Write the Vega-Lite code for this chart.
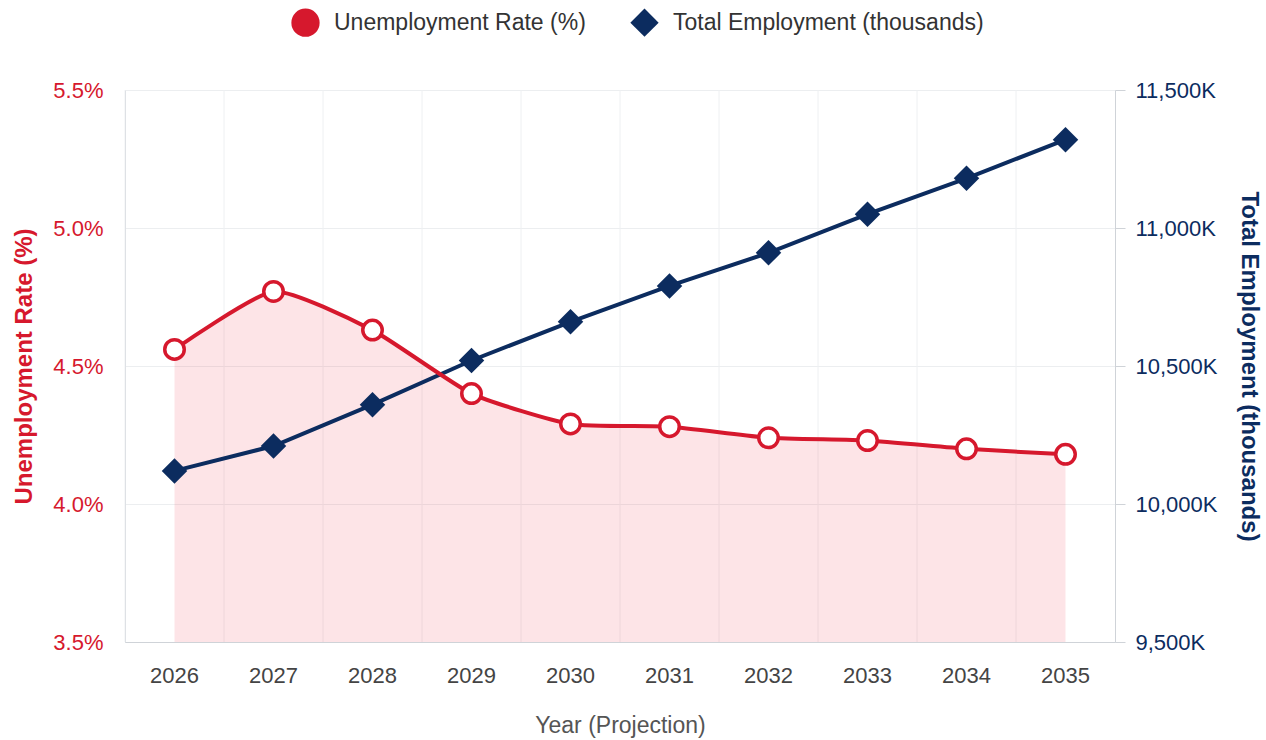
{
  "$schema": "https://vega.github.io/schema/vega-lite/v6.json",
  "width": 990,
  "height": 552,
  "autosize": {"type": "none"},
  "padding": {"left": 125, "top": 90, "right": 151, "bottom": 98},
  "background": "white",
  "config": {
    "font": "Liberation Sans",
    "view": {"stroke": null},
    "axis": {"domainColor": "#cfd3d8", "gridColor": "#eceef0", "labelFont": "Liberation Sans", "titleFont": "Liberation Sans"}
  },
  "data": {
    "values": [
      {"year": "2026", "series": "Unemployment Rate (%)", "value": 4.56},
      {"year": "2027", "series": "Unemployment Rate (%)", "value": 4.77},
      {"year": "2028", "series": "Unemployment Rate (%)", "value": 4.63},
      {"year": "2029", "series": "Unemployment Rate (%)", "value": 4.40},
      {"year": "2030", "series": "Unemployment Rate (%)", "value": 4.29},
      {"year": "2031", "series": "Unemployment Rate (%)", "value": 4.28},
      {"year": "2032", "series": "Unemployment Rate (%)", "value": 4.24},
      {"year": "2033", "series": "Unemployment Rate (%)", "value": 4.23},
      {"year": "2034", "series": "Unemployment Rate (%)", "value": 4.20},
      {"year": "2035", "series": "Unemployment Rate (%)", "value": 4.18},
      {"year": "2026", "series": "Total Employment (thousands)", "value": 10120},
      {"year": "2027", "series": "Total Employment (thousands)", "value": 10210},
      {"year": "2028", "series": "Total Employment (thousands)", "value": 10360},
      {"year": "2029", "series": "Total Employment (thousands)", "value": 10520},
      {"year": "2030", "series": "Total Employment (thousands)", "value": 10660},
      {"year": "2031", "series": "Total Employment (thousands)", "value": 10790},
      {"year": "2032", "series": "Total Employment (thousands)", "value": 10910},
      {"year": "2033", "series": "Total Employment (thousands)", "value": 11050},
      {"year": "2034", "series": "Total Employment (thousands)", "value": 11180},
      {"year": "2035", "series": "Total Employment (thousands)", "value": 11320}
    ]
  },
  "encoding": {
    "x": {
      "field": "year",
      "type": "ordinal",
      "scale": {"type": "band", "paddingInner": 0, "paddingOuter": 0},
      "axis": {
        "title": "Year (Projection)",
        "titleFontSize": 23,
        "titleFontWeight": "normal",
        "titleColor": "#555555",
        "labelFontSize": 22,
        "labelColor": "#444444",
        "labelAngle": 0,
        "ticks": false,
        "labelPadding": 23,
        "titlePadding": 28,
        "grid": false
      }
    }
  },
  "layer": [
    {
      "transform": [{"filter": "datum.series === 'Unemployment Rate (%)'"}],
      "layer": [
        {
          "mark": {"type": "rule", "color": "#eef0f2", "strokeWidth": 1},
          "encoding": {"x": {"field": "year", "type": "ordinal", "bandPosition": 0}}
        },
        {
          "mark": {"type": "area", "interpolate": "cardinal", "tension": 0.45, "color": "#f01e3c", "opacity": 0.12},
          "encoding": {
            "y": {
              "field": "value",
              "type": "quantitative",
              "scale": {"domain": [3.5, 5.5], "zero": false, "nice": false},
              "axis": {
                "orient": "left",
                "title": "Unemployment Rate (%)",
                "titleColor": "#d6182d",
                "titleFontSize": 24,
                "titleFontWeight": "bold",
                "titlePadding": 16,
                "labelColor": "#d6182d",
                "labelFontSize": 22,
                "labelPadding": 22,
                "values": [3.5, 4.0, 4.5, 5.0, 5.5],
                "labelExpr": "format(datum.value, '.1f') + '%'",
                "ticks": false,
                "grid": true
              }
            },
            "y2": {"datum": 3.5}
          }
        }
      ]
    },
    {
      "transform": [{"filter": "datum.series === 'Total Employment (thousands)'"}],
      "mark": {"type": "line", "color": "#0c2c5f", "strokeWidth": 4},
      "encoding": {
        "y": {
          "field": "value",
          "type": "quantitative",
          "scale": {"domain": [9500, 11500], "zero": false, "nice": false},
          "axis": {
            "orient": "right",
            "title": "Total Employment (thousands)",
            "titleColor": "#0c2c5f",
            "titleFontSize": 24,
            "titleFontWeight": "bold",
            "titlePadding": 20,
            "labelColor": "#0c2c5f",
            "labelFontSize": 22,
            "labelPadding": 10,
            "values": [9500, 10000, 10500, 11000, 11500],
            "labelExpr": "format(datum.value, ',') + 'K'",
            "ticks": true,
            "tickSize": 10,
            "tickColor": "#cfd3d8",
            "grid": false
          }
        }
      }
    },
    {
      "transform": [{"filter": "datum.series === 'Unemployment Rate (%)'"}],
      "layer": [
        {
          "mark": {"type": "line", "interpolate": "cardinal", "tension": 0.45, "color": "#d6182d", "strokeWidth": 4},
          "encoding": {
            "y": {"field": "value", "type": "quantitative", "scale": {"domain": [3.5, 5.5], "zero": false, "nice": false}, "axis": null}
          }
        },
        {
          "mark": {"type": "point", "filled": false, "fill": "white", "strokeWidth": 3.5, "size": 380, "opacity": 1},
          "encoding": {
            "y": {"field": "value", "type": "quantitative", "scale": {"domain": [3.5, 5.5], "zero": false, "nice": false}, "axis": null},
            "color": {
              "field": "series",
              "type": "nominal",
              "scale": {"domain": ["Unemployment Rate (%)", "Total Employment (thousands)"], "range": ["#d6182d", "#0c2c5f"]},
              "legend": {
                "title": null,
                "orient": "none",
                "direction": "horizontal",
                "legendX": 166,
                "legendY": -82,
                "symbolSize": 800,
                "labelFontSize": 23,
                "labelLimit": 0,
                "labelColor": "#333333",
                "labelOffset": 14,
                "columnPadding": 44,
                "symbolStrokeWidth": 0,
                "encode": {
                  "symbols": {
                    "update": {
                      "fill": {"scale": "color", "field": "value"},
                      "stroke": {"value": "transparent"},
                      "opacity": {"value": 1},
                      "size": {"signal": "datum.value === 'Total Employment (thousands)' ? 1150 : 800"}
                    }
                  }
                }
              }
            },
            "shape": {
              "field": "series",
              "type": "nominal",
              "scale": {"domain": ["Unemployment Rate (%)", "Total Employment (thousands)"], "range": ["circle", "diamond"]},
              "legend": {
                "title": null,
                "orient": "none",
                "direction": "horizontal",
                "legendX": 166,
                "legendY": -82,
                "symbolSize": 800,
                "labelFontSize": 23,
                "labelLimit": 0,
                "labelColor": "#333333",
                "labelOffset": 14,
                "columnPadding": 44
              }
            }
          }
        }
      ]
    },
    {
      "transform": [{"filter": "datum.series === 'Total Employment (thousands)'"}],
      "mark": {"type": "point", "filled": true, "size": 650, "opacity": 1},
      "encoding": {
        "y": {"field": "value", "type": "quantitative", "scale": {"domain": [9500, 11500], "zero": false, "nice": false}, "axis": null},
        "color": {"field": "series", "type": "nominal"},
        "shape": {"field": "series", "type": "nominal"}
      }
    }
  ],
  "resolve": {"scale": {"y": "independent"}}
}
